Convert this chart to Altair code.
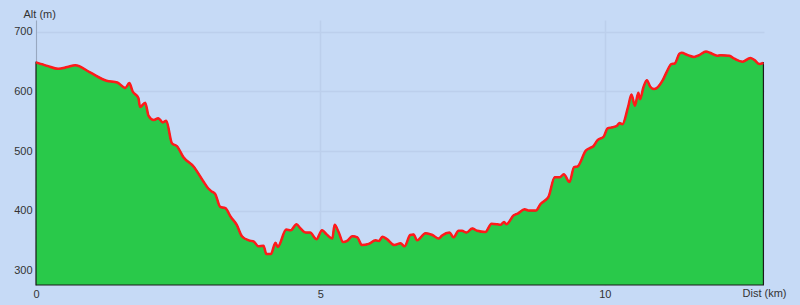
import altair as alt
import pandas as pd

dist_km = [0.0, 0.2, 0.39, 0.55, 0.69, 0.95, 1.24, 1.43, 1.57, 1.64, 1.70, 1.80, 1.83, 1.92, 1.98, 2.07, 2.15, 2.23, 2.29,
           2.39, 2.48, 2.59, 2.77, 2.95, 3.03, 3.09, 3.15, 3.24, 3.33, 3.42, 3.53, 3.62, 3.74, 3.83, 3.91, 4.0,
           4.05, 4.13, 4.21, 4.25, 4.40, 4.48, 4.58, 4.65, 4.74, 4.82, 4.93, 5.03, 5.11, 5.21, 5.25, 5.32, 5.40,
           5.47, 5.56, 5.65, 5.73, 5.85, 5.97, 6.03, 6.09, 6.17, 6.30, 6.41, 6.48, 6.58, 6.64, 6.70, 6.85, 6.97,
           7.08, 7.14, 7.27, 7.34, 7.43, 7.49, 7.57, 7.67, 7.76, 7.90, 8.01, 8.11, 8.17, 8.23, 8.27, 8.40, 8.47,
           8.59, 8.67, 8.79, 8.87, 9.01, 9.12, 9.21, 9.28, 9.38, 9.46, 9.52, 9.67, 9.74, 9.80, 9.87, 9.98, 10.05,
           10.14, 10.22, 10.26, 10.31, 10.41, 10.47, 10.53, 10.59, 10.62, 10.68, 10.74, 10.80, 10.87, 11.02,
           11.09, 11.17, 11.23, 11.31, 11.35, 11.46, 11.57, 11.66, 11.78, 11.85, 11.98, 12.04, 12.19, 12.28,
           12.42, 12.56, 12.63, 12.72, 12.79]
alt_m = [649, 643, 638, 641, 644, 632, 618, 615, 606, 614, 600, 589, 574, 581, 559, 552, 555, 548, 551,
         513, 508, 490, 474, 448, 437, 432, 428, 406, 404, 390, 376, 357, 350, 348, 340, 341,
         327, 327, 346, 339, 368, 367, 377, 370, 363, 363, 352, 367, 360, 353, 376, 364, 347,
         349, 357, 355, 342, 344, 350, 349, 356, 352, 342, 345, 340, 359, 360, 350, 362, 359,
         353, 358, 363, 355, 366, 366, 363, 370, 366, 364, 378, 377, 376, 381, 377, 392, 395,
         402, 400, 400, 411, 423, 456, 456, 461, 448, 473, 474, 501, 505, 508, 518, 524, 538,
         540, 543, 547, 545, 574, 595, 576, 598, 587, 607, 619, 608, 604, 619,
         633, 646, 647, 663, 665, 661, 658, 661, 667, 665, 660, 661, 660, 655,
         650, 656, 653, 646, 648]

x_ticks = [0, 5, 10]
y_ticks = [300, 400, 500, 600, 700]

df = pd.DataFrame({"d": dist_km, "a": alt_m})

BG = "#c6daf6"
GRID = "#bccfec"

common = dict(titleFontWeight="normal", titleFontSize=11, titleFont="Liberation Sans",
              titleColor="#333333", labelFont="Liberation Sans", labelFontSize=11,
              labelColor="#333333", labelFlush=False, ticks=False, grid=True,
              gridColor=GRID, gridWidth=1.5, format="d")

x_enc = alt.X("d:Q", scale=alt.Scale(domain=[0, 12.8], nice=False, zero=False),
              axis=alt.Axis(values=x_ticks, title="Dist (km)", titleX=728, titleY=8,
                            titleAlign="center", titleBaseline="middle",
                            labelPadding=3, domain=False, **common))
y_enc = alt.Y("a:Q", scale=alt.Scale(domain=[275, 720], nice=False, zero=False),
              axis=alt.Axis(values=y_ticks, title="Alt (m)", titleAngle=0, titleX=-13, titleY=-6,
                            titleAlign="left", titleBaseline="middle",
                            labelPadding=4, domain=True, domainColor="#98a8c0", **common))

area = alt.Chart(df).mark_area(color="#29c94a", stroke="#1a1a1a", strokeWidth=1.2,
                               interpolate="monotone").encode(
    x=x_enc, y=y_enc, y2=alt.datum(275))
line = alt.Chart(df).mark_line(color="#ff1a1a", strokeWidth=2.5, interpolate="monotone").encode(
    x="d:Q", y="a:Q")

chart = (area + line).properties(
    width=728, height=265, background=BG,
    padding={"left": 36, "top": 20, "right": 36, "bottom": 20},
    autosize=alt.AutoSizeParams(type="none"),
).configure_view(stroke=None, fill=BG)

chart.save("out.html", embed_options={"renderer": "svg", "actions": False})
